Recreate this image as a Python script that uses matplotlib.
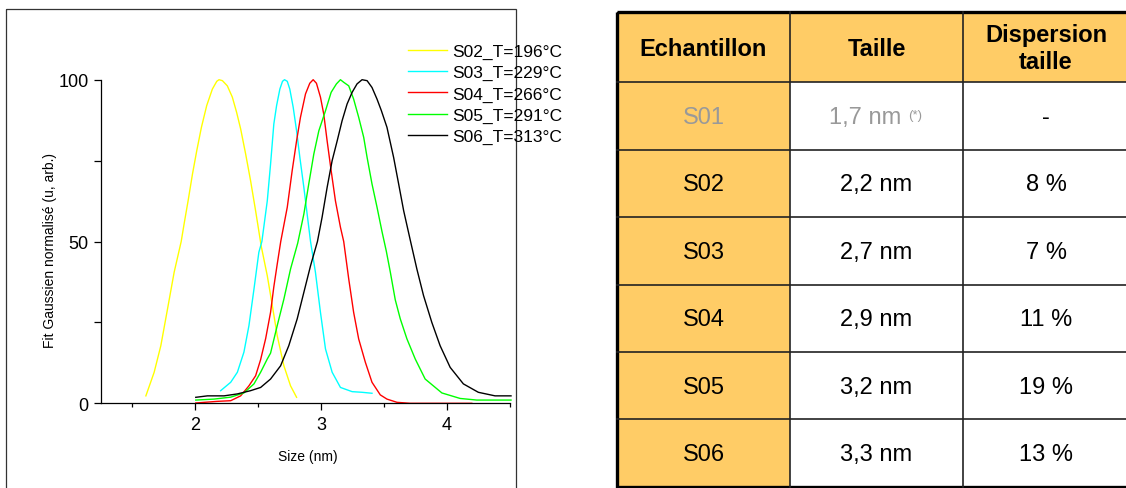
import matplotlib
matplotlib.use('Agg')
import matplotlib.pyplot as plt
from matplotlib.patches import Rectangle
from matplotlib.ticker import MultipleLocator

plt.rcParams['font.family'] = ['Liberation Sans', 'DejaVu Sans']

# --- courbes ---
x_s02 = [1.607, 1.673, 1.726, 1.779, 1.832, 1.888, 1.911, 1.943, 1.978, 2.012, 2.049, 2.091, 2.136, 2.171, 2.189,
         2.216, 2.255, 2.295, 2.329, 2.361, 2.401, 2.440, 2.480, 2.525, 2.573, 2.613, 2.652, 2.705, 2.758, 2.806]
y_s02 = [2.3, 9.6, 17.8, 29.1, 40.5, 50.0, 55.4, 62.6, 70.9, 78.1, 85.3, 92.0, 97.1, 99.5, 100,
         99.7, 98.1, 94.6, 89.9, 84.8, 77.0, 68.8, 59.5, 48.5, 39.4, 30.2, 20.9, 11.6, 5.4, 1.85]

x_s03 = [2.202, 2.282, 2.335, 2.387, 2.427, 2.467, 2.506, 2.530, 2.573, 2.599, 2.625, 2.647, 2.673, 2.694, 2.710,
         2.732, 2.752, 2.779, 2.806, 2.832, 2.864, 2.890, 2.917, 2.956, 2.996, 3.036, 3.089, 3.155, 3.248, 3.327, 3.406]
y_s03 = [3.9, 6.5, 9.6, 15.8, 24.0, 35.3, 46.7, 50.0, 62.6, 73.9, 86.3, 92.0, 97.1, 99.5, 100,
         99.5, 97.1, 91.5, 84.2, 76.0, 66.7, 58.5, 50.0, 40.5, 28.1, 16.8, 9.6, 4.9, 3.6, 3.4, 3.1]

x_s04 = [2.004, 2.176, 2.282, 2.361, 2.427, 2.480, 2.520, 2.560, 2.599, 2.625, 2.652, 2.680, 2.732, 2.771, 2.806,
         2.837, 2.877, 2.911, 2.938, 2.964, 2.996, 3.022, 3.049, 3.081, 3.115, 3.155, 3.181, 3.221, 3.260, 3.300,
         3.353, 3.406, 3.472, 3.525, 3.605, 3.710, 4.200]
y_s04 = [0.1, 0.6, 0.8, 2.3, 5.4, 8.5, 13.5, 20.0, 28.1, 36.0, 43.0, 50.0, 60.6, 71.9, 81.1,
         88.4, 95.6, 98.9, 100, 98.9, 94.6, 89.4, 81.1, 71.9, 62.6, 54.4, 50.0, 38.4, 28.1, 19.9,
         12.7, 6.5, 2.6, 1.3, 0.3, 0.0, 0.0]

x_s05 = [2.004, 2.149, 2.282, 2.387, 2.467, 2.520, 2.573, 2.599, 2.652, 2.705, 2.758, 2.815, 2.864, 2.903, 2.943,
         2.983, 3.036, 3.081, 3.123, 3.155, 3.181, 3.221, 3.260, 3.300, 3.340, 3.367, 3.406, 3.446, 3.486, 3.520,
         3.552, 3.591, 3.631, 3.684, 3.750, 3.829, 3.962, 4.107, 4.240, 4.512]
y_s05 = [1.0, 1.3, 1.9, 3.2, 6.0, 9.6, 13.7, 15.5, 24.0, 32.2, 41.5, 49.5, 58.5, 67.8, 77.0,
         84.2, 90.4, 96.1, 98.7, 100, 99.2, 98.1, 94.0, 88.4, 82.2, 76.0, 67.8, 60.6, 53.0, 47.0,
         40.5, 32.0, 26.1, 19.9, 13.7, 7.5, 3.2, 1.5, 1.0, 1.0]

x_s06 = [2.004, 2.097, 2.229, 2.335, 2.440, 2.520, 2.599, 2.679, 2.744, 2.811, 2.864, 2.917, 2.972, 3.009, 3.049,
         3.089, 3.129, 3.168, 3.208, 3.248, 3.287, 3.327, 3.367, 3.406, 3.446, 3.480, 3.525, 3.578, 3.618, 3.658,
         3.713, 3.763, 3.816, 3.882, 3.948, 4.028, 4.133, 4.252, 4.385, 4.512]
y_s06 = [1.85, 2.3, 2.3, 2.9, 3.9, 4.9, 7.5, 11.6, 17.8, 26.1, 34.3, 42.5, 50.0, 57.5, 66.7,
         75.0, 81.1, 87.3, 92.5, 96.1, 98.7, 100, 99.7, 97.6, 94.0, 90.5, 85.3, 76.0, 67.8, 59.5,
         50.0, 41.5, 33.3, 25.0, 17.8, 11.1, 6.0, 3.4, 2.3, 2.3]

labels = ['S02_T=196°C', 'S03_T=229°C', 'S04_T=266°C', 'S05_T=291°C', 'S06_T=313°C']
couleurs = ['#ffff00', '#00ffff', '#ff0000', '#00ff00', '#000000']

# --- tableau ---
entetes = ['Echantillon', 'Taille', 'Dispersion\ntaille']
echantillons = ['S01', 'S02', 'S03', 'S04', 'S05', 'S06']
tailles = ['1,7 nm', '2,2 nm', '2,7 nm', '2,9 nm', '3,2 nm', '3,3 nm']
dispersions = ['-', '8 %', '7 %', '11 %', '19 %', '13 %']

W, H = 1126, 489
fig = plt.figure(figsize=(W / 100, H / 100), dpi=100)

# calque de fond en pixels (cadre + tableau)
bg = fig.add_axes([0, 0, 1, 1])
bg.set_xlim(0, W)
bg.set_ylim(H, 0)
bg.axis('off')

bg.add_patch(Rectangle((6, 10), 510, 500, fill=False, ec='#333333', lw=0.9, clip_on=False))

cols = [617, 790, 963, 1134]
haut_entete = 70.6
haut_ligne = 67.4
y0 = 12.7
rows = [y0, y0 + haut_entete] + [y0 + haut_entete + haut_ligne * (i + 1) for i in range(len(echantillons))]
orange = '#ffcc66'

# fonds
bg.add_patch(Rectangle((cols[0], rows[0]), cols[-1] - cols[0], rows[1] - rows[0], fc=orange, ec='none'))
bg.add_patch(Rectangle((cols[0], rows[1]), cols[1] - cols[0], rows[-1] - rows[1], fc=orange, ec='none'))
# traits interieurs
for c in cols[1:-1]:
    bg.plot([c, c], [rows[0], rows[-1]], color='#222222', lw=1.2)
for r in rows[1:-1]:
    bg.plot([cols[0], cols[-1]], [r, r], color='#222222', lw=1.2)
bg.add_patch(Rectangle((cols[0], rows[0]), cols[-1] - cols[0], rows[-1] - rows[0],
                       fill=False, ec='black', lw=2.4, clip_on=True))

cx = [(cols[i] + cols[i + 1]) / 2 for i in range(2)] + [1046]
for i, t in enumerate(entetes):
    bg.text(cx[i], (rows[0] + rows[1]) / 2 + 1, t, ha='center', va='center',
            fontsize=17, fontweight='bold', linespacing=1.25)

gris = '#999999'
for i, (e, t, d) in enumerate(zip(echantillons, tailles, dispersions)):
    yc = (rows[i + 1] + rows[i + 2]) / 2 + 1
    coul = gris if i == 0 else 'black'
    bg.text(cx[0], yc, e, ha='center', va='center', fontsize=17, color=coul)
    if i == 0:
        bg.text(cx[1] + 25, yc, t, ha='right', va='center', fontsize=17, color=coul)
        bg.text(cx[1] + 32, yc - 2, '(*)', ha='left', va='center', fontsize=9.5, color=coul)
    else:
        bg.text(cx[1], yc, t, ha='center', va='center', fontsize=17, color=coul)
    bg.text(cx[2], yc, d, ha='center', va='center', fontsize=17, color='black')

# --- graphe ---
ax = fig.add_axes([101 / W, 1 - 404.3 / H, (509.5 - 101) / W, (404.3 - 80.7) / H])
series = [(x_s02, y_s02), (x_s03, y_s03), (x_s04, y_s04), (x_s05, y_s05), (x_s06, y_s06)]
for (xs, ys), lab, c in zip(series, labels, couleurs):
    ax.plot(xs, ys, color=c, lw=1.0, label=lab, clip_on=False)

ax.set_xlim(1.25, 4.5)
ax.set_ylim(0, 100)
ax.xaxis.set_major_locator(MultipleLocator(1))
ax.xaxis.set_minor_locator(MultipleLocator(0.5))
ax.yaxis.set_major_locator(MultipleLocator(50))
ax.yaxis.set_minor_locator(MultipleLocator(25))
ax.spines['top'].set_visible(False)
ax.spines['right'].set_visible(False)
for s in ['left', 'bottom']:
    ax.spines[s].set_linewidth(0.9)
ax.tick_params(which='major', length=5, width=0.9, labelsize=13, pad=4)
ax.tick_params(axis='y', which='minor', length=5, width=0.9)
ax.tick_params(axis='x', which='minor', length=3, width=0.9)
ax.set_facecolor('none')

fig.text(308 / W, 1 - 457 / H, 'Size (nm)', ha='center', va='center', fontsize=10)
fig.text(50 / W, 1 - 251 / H, 'Fit Gaussien normalisé (u, arb.)', ha='center', va='center',
         rotation=90, fontsize=10)

fig.legend(loc='upper left', bbox_to_anchor=(408 / W, 1 - 45 / H), frameon=False,
           fontsize=12.5, handlelength=2.25, handletextpad=0.3, labelspacing=0.34,
           borderpad=0, borderaxespad=0)

fig.savefig('out.png', dpi=100)
